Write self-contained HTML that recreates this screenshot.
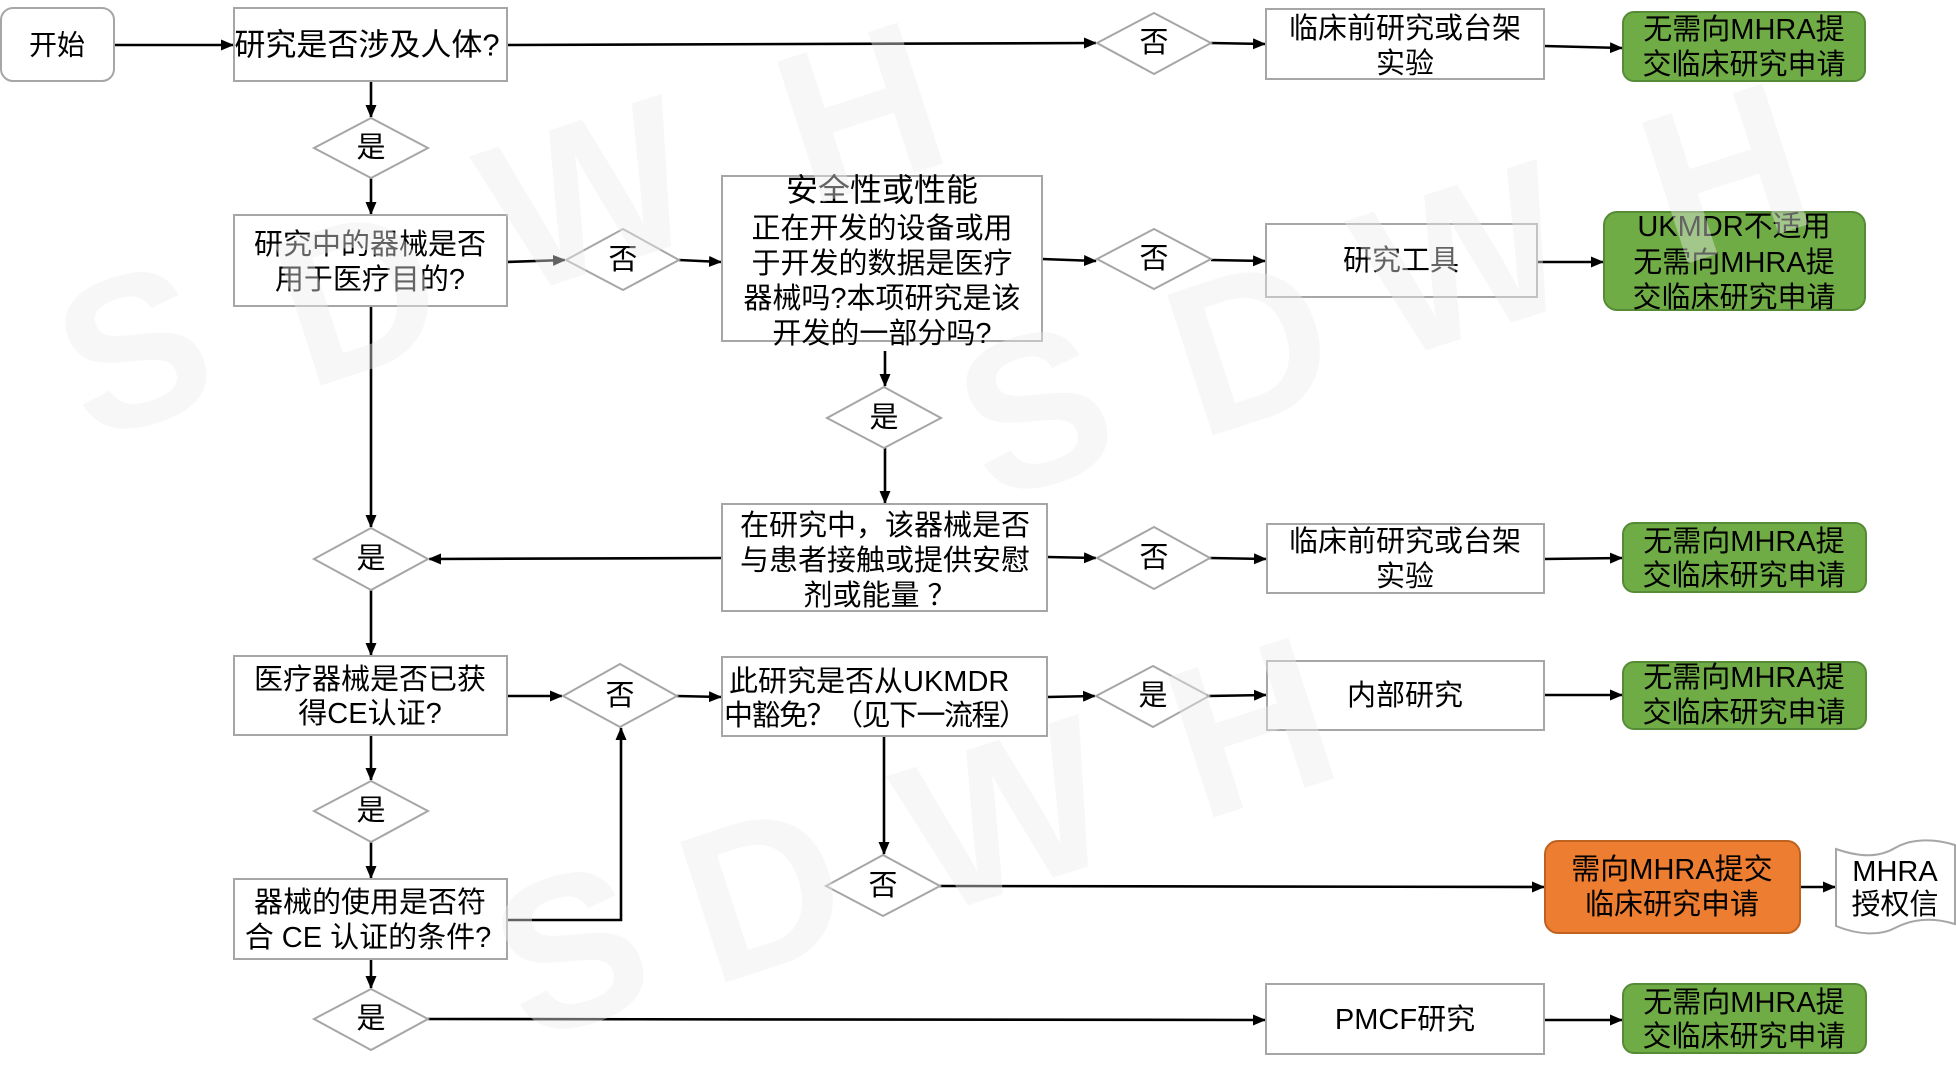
<!DOCTYPE html>
<html>
<head>
<meta charset="utf-8">
<style>
  html, body { margin:0; padding:0; background:#ffffff; }
  body { width:1956px; height:1072px; overflow:hidden; }
  svg { display:block; }
  text { font-family: "Liberation Sans", "Noto Sans CJK SC", sans-serif; fill:#000; }
</style>
</head>
<body>
<svg width="1956" height="1072" viewBox="0 0 1956 1072" xmlns="http://www.w3.org/2000/svg">
  <defs>
    <marker id="ah" markerUnits="userSpaceOnUse" markerWidth="13" markerHeight="11" refX="12" refY="5.5" orient="auto">
      <path d="M0,0 L13,5.5 L0,11 z" fill="#000"/>
    </marker>
  </defs>
  <rect x="0" y="0" width="1956" height="1072" fill="#fff"/>

  <!-- ============ CONNECTORS ============ -->
  <g stroke="#000" stroke-width="2.6" fill="none" marker-end="url(#ah)">
    <line x1="114" y1="45" x2="233" y2="45"/>
    <line x1="507" y1="45" x2="1096" y2="43"/>
    <line x1="1211" y1="43" x2="1265" y2="44"/>
    <line x1="1544" y1="46" x2="1622" y2="48"/>
    <line x1="371" y1="81" x2="371" y2="117"/>
    <line x1="371" y1="178" x2="371" y2="214"/>
    <line x1="507" y1="262" x2="565" y2="260"/>
    <line x1="679" y1="260" x2="721" y2="262"/>
    <line x1="1042" y1="259" x2="1096" y2="261"/>
    <line x1="1211" y1="260" x2="1265" y2="261"/>
    <line x1="1537" y1="262" x2="1603" y2="262"/>
    <line x1="885" y1="351" x2="885" y2="386"/>
    <line x1="885" y1="448" x2="885" y2="503"/>
    <line x1="722" y1="558" x2="429" y2="559"/>
    <line x1="371" y1="306" x2="371" y2="527"/>
    <line x1="1047" y1="557" x2="1096" y2="558"/>
    <line x1="1210" y1="558" x2="1266" y2="559"/>
    <line x1="1544" y1="559" x2="1622" y2="558"/>
    <line x1="371" y1="590" x2="371" y2="655"/>
    <line x1="507" y1="696" x2="562" y2="696"/>
    <line x1="677" y1="696" x2="721" y2="697"/>
    <line x1="1047" y1="697" x2="1095" y2="696"/>
    <line x1="1209" y1="696" x2="1266" y2="695"/>
    <line x1="1544" y1="695" x2="1622" y2="695"/>
    <line x1="371" y1="735" x2="371" y2="780"/>
    <line x1="371" y1="842" x2="371" y2="878"/>
    <polyline points="507,920 621,920 621,728"/>
    <line x1="884" y1="736" x2="884" y2="854"/>
    <line x1="940" y1="886" x2="1544" y2="887"/>
    <line x1="1800" y1="887" x2="1835" y2="887"/>
    <line x1="371" y1="959" x2="371" y2="988"/>
    <line x1="428" y1="1019" x2="1265" y2="1020"/>
    <line x1="1544" y1="1020" x2="1622" y2="1020"/>
  </g>

  <!-- ============ BOXES ============ -->
  <g stroke="#a6a6a6" stroke-width="2" fill="#fff">
    <rect x="1" y="8" width="113" height="73" rx="12" ry="12"/>
    <rect x="234" y="8" width="273" height="73"/>
    <rect x="1266" y="9" width="278" height="70"/>
    <rect x="234" y="215" width="273" height="91"/>
    <rect x="722" y="176" width="320" height="165"/>
    <rect x="1266" y="224" width="271" height="73"/>
    <rect x="722" y="504" width="325" height="107"/>
    <rect x="1267" y="524" width="277" height="69"/>
    <rect x="234" y="656" width="273" height="79"/>
    <rect x="722" y="657" width="325" height="79"/>
    <rect x="1267" y="661" width="277" height="69"/>
    <rect x="234" y="879" width="273" height="80"/>
    <rect x="1266" y="984" width="278" height="70"/>
    <path d="M1836,849 C1862,858 1880,857 1895,848 C1910,839 1932,838 1955,845 L1955,924 C1932,917 1912,919 1895,928 C1880,936 1858,935 1836,926 Z"/>
  </g>

  <!-- green / orange -->
  <g stroke="#558b35" stroke-width="2" fill="#6fac46">
    <rect x="1623" y="12" width="242" height="69" rx="11" ry="11"/>
    <rect x="1604" y="212" width="261" height="98" rx="13" ry="13"/>
    <rect x="1623" y="523" width="243" height="69" rx="11" ry="11"/>
    <rect x="1623" y="662" width="243" height="67" rx="11" ry="11"/>
    <rect x="1623" y="984" width="243" height="69" rx="11" ry="11"/>
  </g>
  <rect x="1545" y="841" width="255" height="92" rx="13" ry="13" fill="#ed7d31" stroke="#c0621f" stroke-width="2"/>

  <!-- ============ DIAMONDS ============ -->
  <g stroke="#a6a6a6" stroke-width="2" fill="#fff">
    <polygon points="371,118 428,148 371,178 314,148"/>
    <polygon points="623,229 679,260 623,290 566,260"/>
    <polygon points="1154,13 1211,43 1154,74 1097,43"/>
    <polygon points="1154,229 1211,259 1154,289 1097,259"/>
    <polygon points="884,387 941,418 884,448 827,418"/>
    <polygon points="371,528 428,559 371,590 314,559"/>
    <polygon points="1154,527 1210,558 1154,589 1097,558"/>
    <polygon points="620,664 677,696 620,727 563,696"/>
    <polygon points="1153,666 1209,696 1153,727 1096,696"/>
    <polygon points="371,781 428,811 371,842 314,811"/>
    <polygon points="883,855 940,886 883,916 826,886"/>
    <polygon points="371,989 428,1019 371,1050 314,1019"/>
  </g>

  <!-- ============ TEXT ============ -->
  <g font-size="29" text-anchor="middle" dominant-baseline="central">
    <text x="57" y="45" font-size="28">开始</text>
    <text x="367" y="45" font-size="31">研究是否涉及人体?</text>
    <text x="1405" y="29">临床前研究或台架</text>
    <text x="1405" y="64">实验</text>
    <text x="1744" y="30">无需向MHRA提</text>
    <text x="1744" y="65">交临床研究申请</text>

    <text x="370" y="245">研究中的器械是否</text>
    <text x="370" y="280">用于医疗目的?</text>

    <text x="882" y="190" font-size="32">安全性或性能</text>
    <text x="882" y="229">正在开发的设备或用</text>
    <text x="882" y="264">于开发的数据是医疗</text>
    <text x="882" y="299">器械吗?本项研究是该</text>
    <text x="882" y="334">开发的一部分吗?</text>

    <text x="1401" y="261">研究工具</text>
    <text x="1734" y="227">UKMDR不适用</text>
    <text x="1734" y="263">无需向MHRA提</text>
    <text x="1734" y="298">交临床研究申请</text>

    <text x="885" y="526">在研究中，该器械是否</text>
    <text x="885" y="561">与患者接触或提供安慰</text>
    <text x="880" y="596">剂或能量 ？</text>

    <text x="1405" y="542">临床前研究或台架</text>
    <text x="1405" y="577">实验</text>
    <text x="1744" y="542">无需向MHRA提</text>
    <text x="1744" y="576">交临床研究申请</text>

    <text x="370" y="680">医疗器械是否已获</text>
    <text x="370" y="714">得CE认证?</text>

    <text x="729" y="682" text-anchor="start">此研究是否从UKMDR</text>
    <text x="724" y="716" text-anchor="start" letter-spacing="-1.5">中豁免？（见下一流程）</text>

    <text x="1405" y="696">内部研究</text>
    <text x="1744" y="678">无需向MHRA提</text>
    <text x="1744" y="713">交临床研究申请</text>

    <text x="370" y="903">器械的使用是否符</text>
    <text x="368" y="938">合 CE 认证的条件?</text>

    <text x="1672" y="870">需向MHRA提交</text>
    <text x="1672" y="905">临床研究申请</text>
    <text x="1895" y="872">MHRA</text>
    <text x="1895" y="905">授权信</text>

    <text x="1405" y="1020">PMCF研究</text>
    <text x="1744" y="1003">无需向MHRA提</text>
    <text x="1744" y="1037">交临床研究申请</text>

    <!-- diamond labels -->
    <text x="371" y="148">是</text>
    <text x="623" y="260">否</text>
    <text x="1154" y="43">否</text>
    <text x="1154" y="259">否</text>
    <text x="884" y="418">是</text>
    <text x="371" y="559">是</text>
    <text x="1154" y="558">否</text>
    <text x="620" y="696">否</text>
    <text x="1153" y="696">是</text>
    <text x="371" y="811">是</text>
    <text x="883" y="886">否</text>
    <text x="371" y="1019">是</text>
  </g>

  <!-- ============ WATERMARK ============ -->
  <g font-size="215" font-weight="bold" text-anchor="middle" dominant-baseline="central" fill-opacity="0.42">
    <text x="134" y="350" transform="rotate(-18 134 350)" style="fill:rgb(236,236,236)">S</text>
    <text x="358" y="295" transform="rotate(-18 358 295)" style="fill:rgb(236,236,236)">D</text>
    <text x="588" y="195" transform="rotate(-18 588 195)" style="fill:rgb(236,236,236)">W</text>
    <text x="860" y="112" transform="rotate(-18 860 112)" style="fill:rgb(236,236,236)">H</text>

    <text x="1035" y="410" transform="rotate(-18 1035 410)" style="fill:rgb(236,236,236)">S</text>
    <text x="1250" y="345" transform="rotate(-18 1250 345)" style="fill:rgb(236,236,236)">D</text>
    <text x="1463" y="260" transform="rotate(-18 1463 260)" style="fill:rgb(236,236,236)">W</text>
    <text x="1725" y="173" transform="rotate(-18 1725 173)" style="fill:rgb(236,236,236)">H</text>

    <text x="571" y="950" transform="rotate(-18 571 950)" style="fill:rgb(236,236,236)">S</text>
    <text x="763" y="892" transform="rotate(-18 763 892)" style="fill:rgb(236,236,236)">D</text>
    <text x="1005" y="815" transform="rotate(-18 1005 815)" style="fill:rgb(236,236,236)">W</text>
    <text x="1251" y="727" transform="rotate(-18 1251 727)" style="fill:rgb(236,236,236)">H</text>
  </g>
</svg>
</body>
</html>
